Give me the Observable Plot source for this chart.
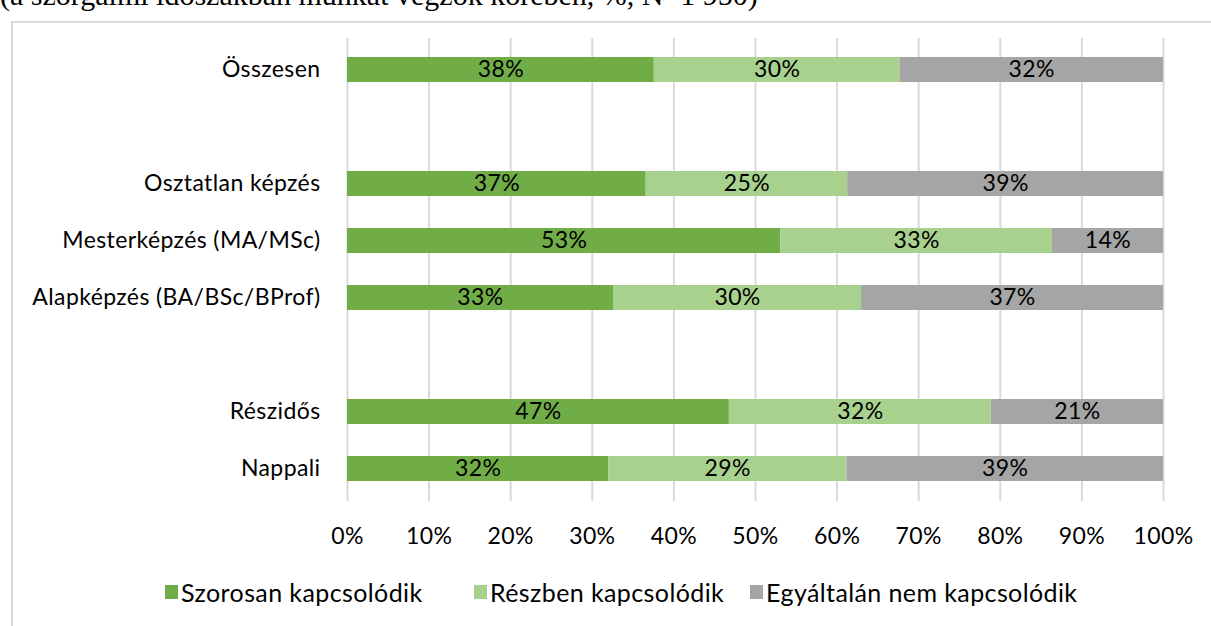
<!DOCTYPE html>
<html><head><meta charset="utf-8">
<script src="https://cdn.jsdelivr.net/npm/d3@7"></script>
<script src="https://cdn.jsdelivr.net/npm/@observablehq/plot@0.6"></script>
<style>
html,body{margin:0;padding:0;background:#fff;}
body{width:1211px;height:626px;overflow:hidden;position:relative;font-family:Lato,sans-serif;}
#title{position:absolute;left:0;top:-20px;font-family:"Liberation Serif",serif;font-size:30px;line-height:30px;white-space:nowrap;color:#000;}
#frame{position:absolute;left:11px;top:21px;width:1400px;height:900px;border:2px solid #d9d9d9;box-sizing:border-box;}
#chart{position:absolute;left:0;top:0;}
#legend{position:absolute;left:0;top:577px;width:1211px;height:30px;font-size:25px;letter-spacing:0.4px;color:#000;white-space:nowrap;}
#legend .item{position:absolute;top:0;display:flex;align-items:center;height:30px;}
#legend .sw{width:13px;height:14px;margin-right:3px;}
</style>
</head><body>
<div id="title">(a szorgalmi időszakban munkát végzők körében, %, N=1 950)</div>
<div id="frame"></div>
<div id="chart"></div>
<div id="legend"></div>
<script>
const categories = ["Összesen", "gap1", "Osztatlan képzés", "Mesterképzés (MA/MSc)", "Alapképzés (BA/BSc/BProf)", "gap2", "Részidős", "Nappali"];
const seriesNames = ["Szorosan kapcsolódik", "Részben kapcsolódik", "Egyáltalán nem kapcsolódik"];
const seriesColors = ["#70AD47", "#A9D18E", "#A5A5A5"];
const szorosan = [37.6, null, 36.6, 53.1, 32.6, null, 46.8, 32.0];
const reszben = [30.1, null, 24.7, 33.3, 30.4, null, 32.1, 29.2];
const egyaltalan = [32.3, null, 38.7, 13.6, 37.0, null, 21.1, 38.8];
const xTicks = [0, 10, 20, 30, 40, 50, 60, 70, 80, 90, 100];

const seriesValues = [szorosan, reszben, egyaltalan];
const rows = [];
seriesNames.forEach((s, si) => {
  categories.forEach((c, ci) => {
    const v = seriesValues[si][ci];
    if (v != null) rows.push({cat: c, series: s, value: v});
  });
});

const chart = Plot.plot({
  width: 1211,
  height: 560,
  marginTop: 38,
  marginBottom: 59,
  marginLeft: 347,
  marginRight: 48,
  style: {fontFamily: "Lato, sans-serif", fontSize: "23px", letterSpacing: "0.4px", background: "transparent", color: "#000"},
  x: {domain: [0, 100], ticks: xTicks, tickFormat: d => d + "%", tickSize: 0, tickPadding: 26, label: null},
  y: {domain: categories, paddingInner: 0.56, paddingOuter: 0.28, tickSize: 0, tickPadding: 27, label: null,
      tickFormat: d => d.startsWith("gap") ? "" : d},
  color: {domain: seriesNames, range: seriesColors},
  marks: [
    Plot.gridX(xTicks, {stroke: "#d9d9d9", strokeOpacity: 1, strokeWidth: 2}),
    Plot.barX(rows, Plot.stackX({y: "cat", x: "value", fill: "series", order: null})),
    Plot.textX(rows, Plot.stackX({y: "cat", x: "value", z: "series", order: null,
      text: d => Math.round(d.value) + "%", fill: "#000", fontSize: 23}))
  ]
});
document.getElementById("chart").appendChild(chart);

const legendLeft = [165, 474, 750];
const legend = document.getElementById("legend");
seriesNames.forEach((s, i) => {
  const item = document.createElement("div");
  item.className = "item";
  item.style.left = legendLeft[i] + "px";
  const sw = document.createElement("div");
  sw.className = "sw";
  sw.style.background = seriesColors[i];
  const t = document.createElement("span");
  t.textContent = s;
  item.appendChild(sw); item.appendChild(t);
  legend.appendChild(item);
});
</script>
</body></html>
